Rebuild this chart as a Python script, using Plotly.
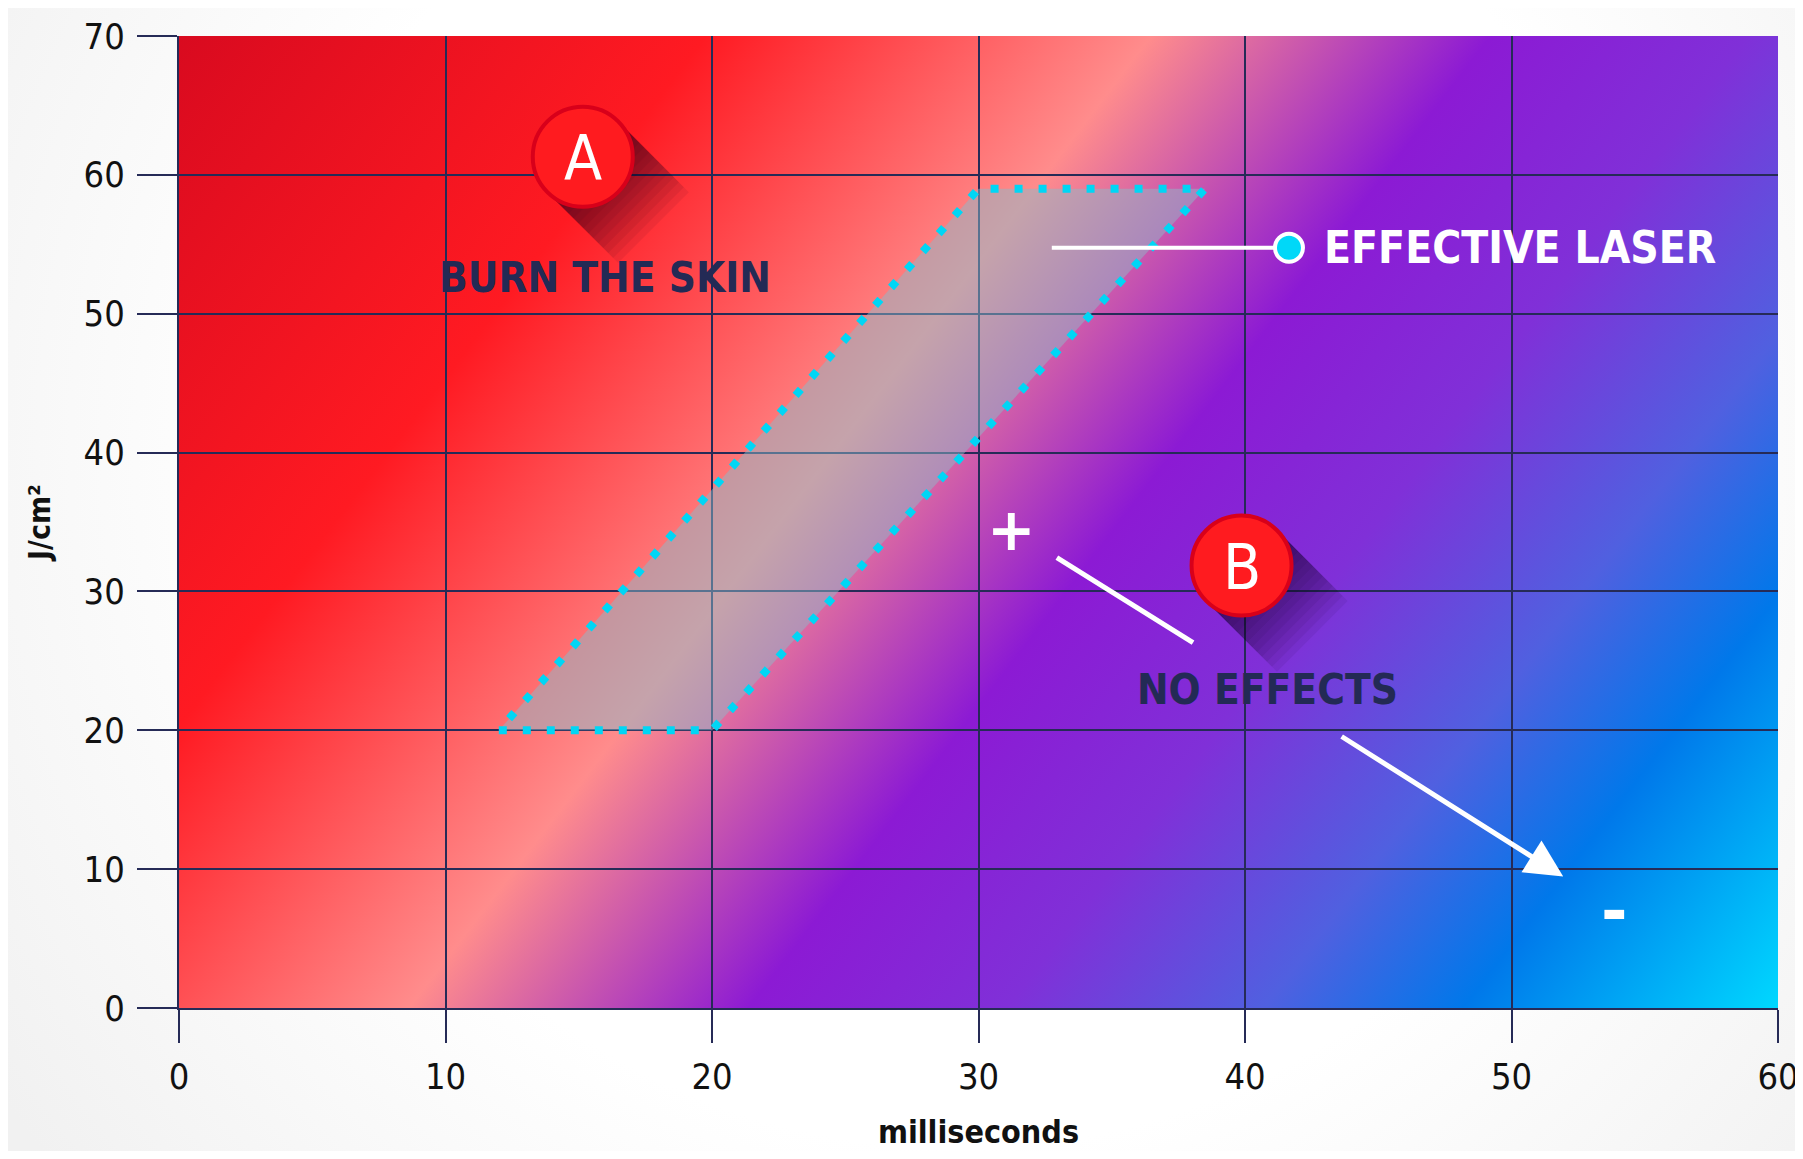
import base64
import plotly.graph_objects as go

# ---------------- data ----------------
x_ticks = [0, 10, 20, 30, 40, 50, 60]
y_ticks = [0, 10, 20, 30, 40, 50, 60, 70]
x_range = [0, 60]
y_range = [0, 70]

# effective laser zone (milliseconds, J/cm2)
zone_x = [12, 20, 38.5, 30, 12]
zone_y = [20, 20, 59, 59, 20]

# round badges
badge_labels = ["A", "B"]
badge_x = [15.15, 39.87]
badge_y = [61.3, 31.86]

# region labels
region_labels = ["BURN THE SKIN", "NO EFFECTS"]
region_x = [16.0, 40.86]
region_y = [52.6, 22.93]

# "effective laser" call-out
laser_label = "EFFECTIVE LASER"
laser_line_x = [32.75, 41.65]
laser_line_y = [54.75, 54.75]
laser_label_x = [42.9]
laser_label_y = [54.8]

# + / - scale
sign_labels = ["+", "-"]
sign_x = [31.25, 53.85]
sign_y = [34.45, 6.95]
plus_line_x = [32.94, 38.05]
plus_line_y = [32.43, 26.31]
arrow_tail_x = [43.57]
arrow_tail_y = [19.62]
arrow_tip_x = [51.94]
arrow_tip_y = [9.47]

# ---------------- style ----------------
COND = "DejaVu Sans Condensed, Liberation Sans Narrow, sans-serif"
NAVY = "#232a55"
GRID = "#262b57"
FIG_W, FIG_H = 1795, 1143          # page body has an 8px margin
ML, MR, MT, MB = 171, 25, 28, 143
W_PLOT, H_PLOT = FIG_W - ML - MR, FIG_H - MT - MB

grad_stops = [(0.00, "#d90a1f"), (0.225, "#ff1a22"), (0.415, "#ff8c8c"),
              (0.56, "#8c1ad4"), (0.67, "#8030d8"), (0.78, "#5060e0"),
              (0.865, "#0078ea"), (1.00, "#00d8ff")]
dx, dy = 0.795, 0.607
tmax = W_PLOT * dx + H_PLOT * dy
stops = "".join(f'<stop offset="{o}" stop-color="{c}"/>' for o, c in grad_stops)
svg_plot = (f'<svg xmlns="http://www.w3.org/2000/svg" width="{W_PLOT}" height="{H_PLOT}" '
            f'viewBox="0 0 {W_PLOT} {H_PLOT}" preserveAspectRatio="none">'
            f'<defs><linearGradient id="g" gradientUnits="userSpaceOnUse" x1="0" y1="0" '
            f'x2="{tmax*dx:.1f}" y2="{tmax*dy:.1f}">{stops}</linearGradient></defs>'
            f'<rect x="0" y="0" width="{W_PLOT}" height="{H_PLOT}" fill="url(#g)"/></svg>')
svg_paper = (f'<svg xmlns="http://www.w3.org/2000/svg" width="{FIG_W}" height="{FIG_H}" '
             f'viewBox="0 0 {FIG_W} {FIG_H}" preserveAspectRatio="none"><defs>'
             '<radialGradient id="r" gradientUnits="userSpaceOnUse" cx="950" cy="450" r="1150">'
             '<stop offset="0" stop-color="#ffffff"/><stop offset="0.6" stop-color="#ffffff"/>'
             '<stop offset="1" stop-color="#f1f1f1"/></radialGradient></defs>'
             f'<rect width="{FIG_W}" height="{FIG_H}" fill="url(#r)"/></svg>')


def data_uri(svg):
    return "data:image/svg+xml;base64," + base64.b64encode(svg.encode()).decode()


fig = go.Figure()

# effective zone
fig.add_trace(go.Scatter(
    x=zone_x, y=zone_y, mode="lines", fill="toself",
    fillcolor="rgba(139,186,202,0.5)",
    line=dict(color="#00d6f5", width=8, dash="8px,16px"),
    hoverinfo="skip", showlegend=False))

# call-out line + dot
fig.add_trace(go.Scatter(
    x=laser_line_x, y=laser_line_y, mode="lines",
    line=dict(color="white", width=4), hoverinfo="skip", showlegend=False))
fig.add_trace(go.Scatter(
    x=laser_line_x[-1:], y=laser_line_y[-1:], mode="markers",
    marker=dict(size=28, color="#00d8f8", line=dict(color="white", width=4)),
    hoverinfo="skip", showlegend=False))

# line from + towards badge B
fig.add_trace(go.Scatter(
    x=plus_line_x, y=plus_line_y, mode="lines",
    line=dict(color="white", width=5), hoverinfo="skip", showlegend=False))

shapes = []
R = 50
s = 0.7071
shadow_lengths = [100 - 7 * i for i in range(14)]
for bx, by in zip(badge_x, badge_y):
    for L in shadow_lengths:
        p1 = (R * s, R * s)
        p2 = (R * s + L * s, R * s - L * s)
        p3 = (-R * s + L * s, -R * s - L * s)
        p4 = (-R * s, -R * s)
        path = (f"M{p1[0]:.1f},{p1[1]:.1f} L{p2[0]:.1f},{p2[1]:.1f} "
                f"L{p3[0]:.1f},{p3[1]:.1f} L{p4[0]:.1f},{p4[1]:.1f} Z")
        shapes.append(dict(type="path", xref="x", yref="y", xsizemode="pixel", ysizemode="pixel",
                           xanchor=bx, yanchor=by, path=path, fillcolor="rgba(15,0,25,0.065)",
                           line=dict(width=0), layer="above"))
    shapes.append(dict(type="circle", xref="x", yref="y", xsizemode="pixel", ysizemode="pixel",
                       xanchor=bx, yanchor=by, x0=-R, x1=R, y0=-R, y1=R,
                       fillcolor="#ff1b1f", line=dict(color="#d8001a", width=4), layer="above"))

annotations = []
for lab, bx, by in zip(badge_labels, badge_x, badge_y):
    annotations.append(dict(x=bx, y=by, text=lab, showarrow=False, xanchor="center", yanchor="middle",
                            yshift=-2, font=dict(family=COND, size=62, color="white")))
for lab, rx, ry in zip(region_labels, region_x, region_y):
    annotations.append(dict(x=rx, y=ry, text=lab, showarrow=False, xanchor="center", yanchor="middle",
                            font=dict(family=COND, size=42, color=NAVY, weight="bold")))
annotations.append(dict(x=laser_label_x[0], y=laser_label_y[0], text=laser_label, showarrow=False,
                        xanchor="left", yanchor="middle",
                        font=dict(family=COND, size=44, color="white", weight="bold")))
sign_sizes = [58, 64]
for lab, sx, sy, sz in zip(sign_labels, sign_x, sign_y, sign_sizes):
    annotations.append(dict(x=sx, y=sy, text=lab, showarrow=False, xanchor="center", yanchor="middle",
                            font=dict(family="DejaVu Sans", size=sz, color="white", weight="bold")))
annotations.append(dict(x=arrow_tip_x[0], y=arrow_tip_y[0], ax=arrow_tail_x[0], ay=arrow_tail_y[0],
                        axref="x", ayref="y", xref="x", yref="y", text="", showarrow=True,
                        arrowhead=2, arrowsize=1.5, arrowwidth=5, arrowcolor="white", standoff=0))

images = [
    dict(source=data_uri(svg_paper), xref="paper", yref="paper",
         x=-ML / W_PLOT, y=1 + MT / H_PLOT, sizex=FIG_W / W_PLOT, sizey=FIG_H / H_PLOT,
         sizing="stretch", layer="below", xanchor="left", yanchor="top"),
    dict(source=data_uri(svg_plot), xref="x", yref="y", x=x_range[0], y=y_range[1],
         sizex=x_range[1] - x_range[0], sizey=y_range[1] - y_range[0],
         sizing="stretch", layer="below", xanchor="left", yanchor="top"),
]

axis_common = dict(showgrid=True, gridcolor=GRID, gridwidth=1.5, zeroline=False,
                   showline=True, linecolor=GRID, linewidth=2, ticks="outside",
                   tickcolor=GRID, tickwidth=1.5, ticklabeloverflow="allow",
                   tickfont=dict(family=COND, size=36, color="#111111"))

fig.update_layout(
    width=FIG_W, height=FIG_H,
    margin=dict(l=ML, r=MR, t=MT, b=MB, autoexpand=False),
    paper_bgcolor="#ffffff", plot_bgcolor="rgba(0,0,0,0)",
    showlegend=False,
    xaxis=dict(range=x_range, tickvals=x_ticks, ticklen=33, ticklabelstandoff=3,
               title=dict(text="milliseconds", standoff=51,
                          font=dict(family=COND, size=32, color="#111111", weight="bold")),
               **axis_common),
    yaxis=dict(range=y_range, tickvals=y_ticks, ticklen=40, ticklabelstandoff=5,
               title=dict(text="J/cm²", standoff=24,
                          font=dict(family=COND, size=30, color="#111111", weight="bold")),
               **axis_common),
    shapes=shapes, annotations=annotations, images=images,
)

fig.write_html("out.html")
